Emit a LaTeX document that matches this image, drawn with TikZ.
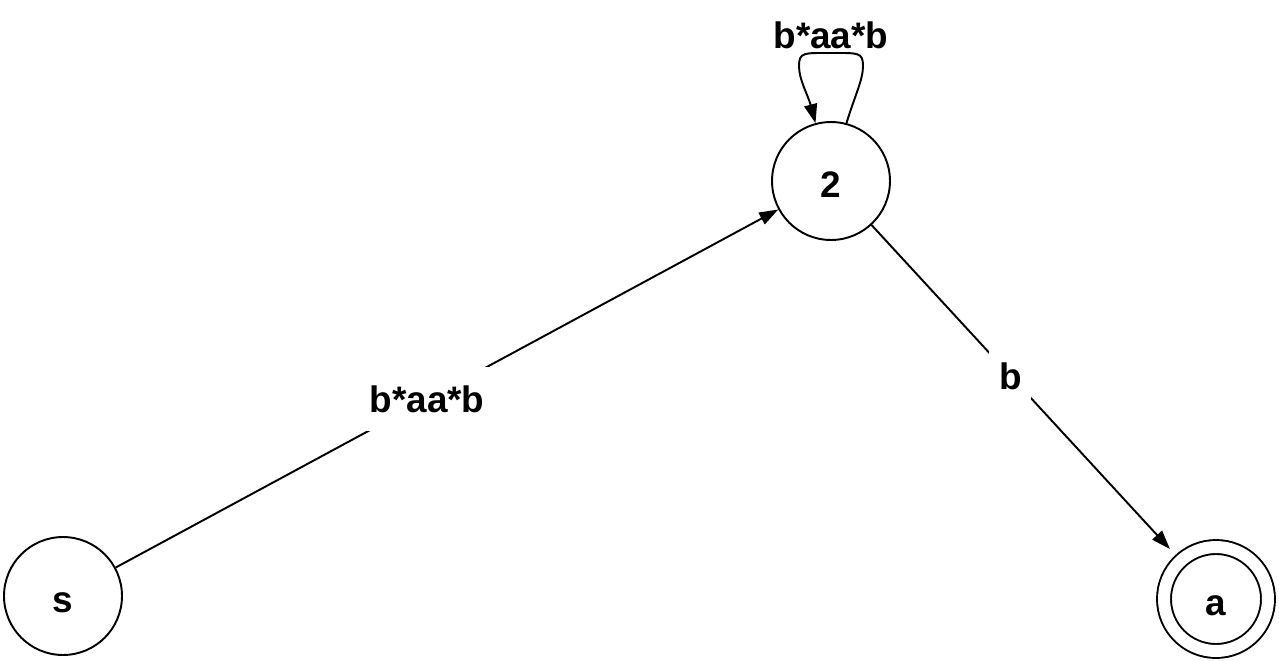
\documentclass[tikz,border=0pt]{standalone}
\usepackage{fontspec}
\setmainfont{Liberation Sans}
\usetikzlibrary{arrows.meta}
\begin{document}
\begin{tikzpicture}[x=0.02cm, y=-0.02cm,
  txt/.style={font=\fontsize{21}{25}\selectfont\bfseries},
  vertex/.style={shape=circle, draw=black, line width=1.1pt, minimum size=2.36cm, inner sep=0pt, text height=0.66cm, text depth=0pt, txt},
  trans/.style={-{Triangle[length=0.38cm, width=0.26cm]}, line width=1.1pt, draw=black},
  lbl/.style={fill=white, inner xsep=0.08cm, inner ysep=0pt, minimum height=1.28cm, minimum width=0.84cm, txt}]
\useasboundingbox (0,0) rectangle (1279,660);
\node[vertex] (s) at (63,596) {s};
\node[vertex] (2) at (831,181) {2};
\node[vertex, double, double distance=0.24cm, minimum size=2.08cm] (a) at (1216,599) {a};
\path [trans] (s) edge node[lbl, pos=0.47] {b*aa*b} (2);
\path [trans, shorten >=0.3cm] (2) edge node[lbl, pos=0.45] {b} (a);
% self loop on 2
\draw [trans] (2.75) .. controls (855,95) and (863,80) .. (863,66)
  .. controls (863,52) and (858,53) .. (831,53) node[txt, above, inner sep=2pt] (loop) {b*aa*b}
  .. controls (804,53) and (799,52) .. (799,66)
  .. controls (799,80) and (808,95) .. (2.105);
\end{tikzpicture}
\end{document}
